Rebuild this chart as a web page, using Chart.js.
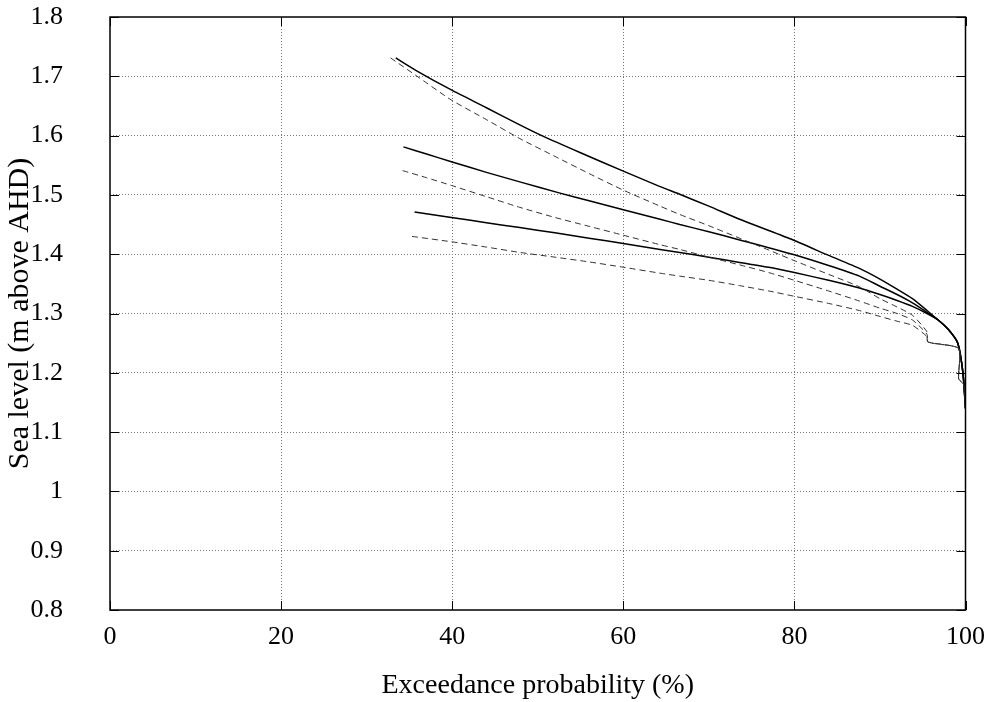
<!DOCTYPE html>
<html>
<head>
<meta charset="utf-8">
<script src="https://cdn.jsdelivr.net/npm/chart.js@4.4.1/dist/chart.umd.min.js"></script>
<style>
  html, body { margin: 0; padding: 0; background: #fff; }
  canvas { display: block; }
</style>
</head>
<body>
<canvas id="chart" width="997" height="702"></canvas>
<script>
// ---- data (x = exceedance %, y = sea level m AHD) ----
const solid1X = [33.4, 36, 39.9, 44, 47.9, 50.6, 55, 60, 64.3, 66.6, 70, 73.6, 77, 80, 84, 87.6, 90, 92, 93.8, 95.5];
const solid1Y = [1.731, 1.708, 1.677, 1.647, 1.618, 1.599, 1.571, 1.540, 1.514, 1.501, 1.481, 1.459, 1.440, 1.423, 1.398, 1.376, 1.358, 1.341, 1.325, 1.305];

const solid2X = [34.3, 37, 39.9, 44, 47.9, 52.6, 56, 60, 64.3, 66.6, 70, 73.6, 77, 80, 84, 87.6, 90, 92, 93.8, 95.5];
const solid2Y = [1.581, 1.569, 1.556, 1.538, 1.522, 1.503, 1.490, 1.475, 1.459, 1.450, 1.438, 1.424, 1.411, 1.399, 1.381, 1.363, 1.346, 1.332, 1.318, 1.302];

const solid3X = [35.6, 39.9, 44, 47.9, 52, 56, 60, 64.3, 66.6, 70, 73.6, 77, 80, 84, 87.6, 90, 92, 93.8, 95.5];
const solid3Y = [1.471, 1.462, 1.453, 1.445, 1.436, 1.427, 1.418, 1.408, 1.403, 1.395, 1.386, 1.378, 1.369, 1.356, 1.343, 1.332, 1.322, 1.312, 1.300];

const solidTailX = [96.8, 98, 99.1, 99.7, 100];
const solidTailY = [1.289, 1.273, 1.250, 1.200, 1.140];

const dash1X = [32.8, 36, 39.9, 44, 47.9, 52, 56, 60, 64.3, 66.6, 70, 73.6, 77, 80, 84, 87.6, 90, 92, 93.8, 95.5];
const dash1Y = [1.731, 1.699, 1.660, 1.627, 1.595, 1.565, 1.536, 1.508, 1.481, 1.467, 1.448, 1.427, 1.407, 1.389, 1.366, 1.345, 1.325, 1.311, 1.297, 1.269];

const dash2X = [34.2, 37, 39.9, 44, 47.9, 52, 56, 60, 64.3, 66.6, 70, 73.6, 77, 80, 84, 87.6, 90, 92, 93.8, 95.5];
const dash2Y = [1.541, 1.529, 1.516, 1.497, 1.479, 1.462, 1.447, 1.432, 1.416, 1.408, 1.395, 1.382, 1.369, 1.356, 1.338, 1.321, 1.309, 1.300, 1.289, 1.265];

const dash3X = [35.3, 39.9, 44, 47.9, 52, 56, 60, 64.3, 66.6, 70, 73.6, 77, 80, 84, 87.6, 90, 92, 93.8, 95.5];
const dash3Y = [1.430, 1.421, 1.412, 1.403, 1.395, 1.387, 1.378, 1.368, 1.363, 1.356, 1.347, 1.338, 1.329, 1.317, 1.305, 1.295, 1.287, 1.280, 1.261];

const dashTailX = [95.6, 99.2, 99.2, 99.8, 100];
const dashTailY = [1.252, 1.241, 1.190, 1.180, 1.140];

const xTicks = [0, 20, 40, 60, 80, 100];
const yTicks = [0.8, 0.9, 1.0, 1.1, 1.2, 1.3, 1.4, 1.5, 1.6, 1.7, 1.8];

const FONT = '"Liberation Serif", "DejaVu Serif", serif';
const TICK = 9;

function pts(xs, ys, tx, ty) {
  return xs.concat(tx).map((x, i) => ({ x, y: i < ys.length ? ys[i] : ty[i - ys.length] }));
}

function dashed(xs, ys) {
  return {
    data: pts(xs, ys, dashTailX, dashTailY),
    borderColor: '#333', borderWidth: 1, borderDash: [6, 4],
    pointRadius: 0, showLine: true, tension: 0.2, fill: false,
  };
}
function solid(xs, ys) {
  return {
    data: pts(xs, ys, solidTailX, solidTailY),
    borderColor: '#000', borderWidth: 1.5,
    pointRadius: 0, showLine: true, tension: 0.2, fill: false,
  };
}

// box around the plot plus gnuplot-style inward tick marks on all four sides
const frameAndTicks = {
  id: 'frameAndTicks',
  afterDatasetsDraw(chart) {
    const { ctx, chartArea: a, scales: { x, y } } = chart;
    ctx.save();
    ctx.setLineDash([]);
    ctx.strokeStyle = '#000';
    ctx.lineWidth = 1;
    ctx.beginPath();
    yTicks.forEach(v => {
      const py = Math.round(y.getPixelForValue(v)) + 0.5;
      ctx.moveTo(a.left, py); ctx.lineTo(a.left + TICK, py);
      ctx.moveTo(a.right, py); ctx.lineTo(a.right - TICK, py);
    });
    xTicks.forEach(v => {
      const px = Math.round(x.getPixelForValue(v)) + 0.5;
      ctx.moveTo(px, a.bottom); ctx.lineTo(px, a.bottom - TICK);
      ctx.moveTo(px, a.top); ctx.lineTo(px, a.top + TICK);
    });
    ctx.stroke();
    ctx.lineWidth = 1.5;
    ctx.strokeRect(a.left, a.top, a.right - a.left, a.bottom - a.top);
    ctx.restore();
  }
};

new Chart(document.getElementById('chart'), {
  type: 'scatter',
  data: {
    datasets: [
      dashed(dash1X, dash1Y), dashed(dash2X, dash2Y), dashed(dash3X, dash3Y),
      solid(solid1X, solid1Y), solid(solid2X, solid2Y), solid(solid3X, solid3Y),
    ],
  },
  options: {
    responsive: false,
    animation: false,
    devicePixelRatio: 1,
    layout: { padding: { top: 17, right: 31, left: 0, bottom: 0 } },
    plugins: { legend: { display: false }, tooltip: { enabled: false } },
    scales: {
      x: {
        type: 'linear', min: 0, max: 100,
        afterFit(s) { s.height = 92; },
        afterBuildTicks(s) { s.ticks = xTicks.map(v => ({ value: v })); },
        grid: { color: ctx => (ctx.tick && (ctx.tick.value === 0 || ctx.tick.value === 100)) ? 'rgba(0,0,0,0)' : '#777', lineWidth: 1, drawTicks: false },
        border: { display: false, dash: [1, 2] },
        ticks: { color: '#000', padding: 12, maxRotation: 0, font: { family: FONT, size: 26 }, callback: v => String(v) },
        title: { display: true, text: 'Exceedance probability (%)', color: '#000', font: { family: FONT, size: 28 }, padding: { top: 0, bottom: 0 } },
      },
      y: {
        type: 'linear', min: 0.8, max: 1.8,
        // fixed axis width; drop the tick padding Chart.js adds above/below the axis
        afterFit(s) { s.width = 110; s.paddingTop = 0; s.paddingBottom = 0; },
        afterBuildTicks(s) { s.ticks = yTicks.map(v => ({ value: v })); },
        grid: { color: ctx => (ctx.tick && (ctx.tick.value <= 0.8 || ctx.tick.value >= 1.8)) ? 'rgba(0,0,0,0)' : '#777', lineWidth: 1, drawTicks: false },
        border: { display: false, dash: [1, 2] },
        ticks: { color: '#000', padding: 47, font: { family: FONT, size: 26 }, callback: v => String(Number(v.toFixed(1))) },
        title: { display: true, text: 'Sea level (m above AHD)', color: '#000', font: { family: FONT, size: 30 }, padding: { top: 2, bottom: 0 } },
      },
    },
  },
  plugins: [frameAndTicks],
});
</script>
</body>
</html>
